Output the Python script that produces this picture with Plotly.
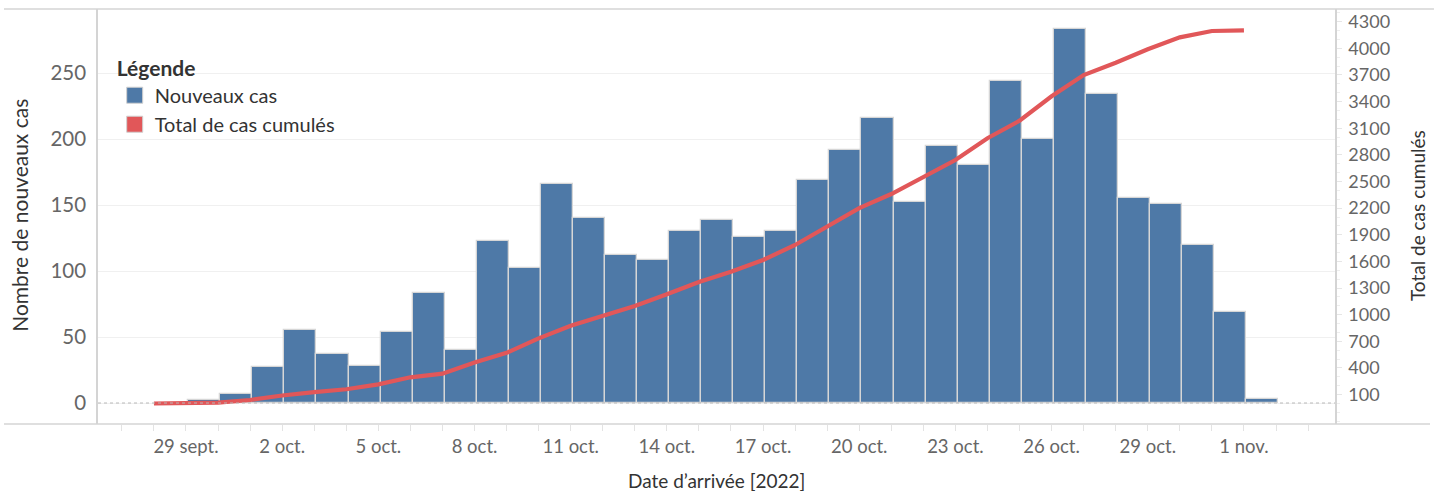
import plotly.graph_objects as go

# ---------------- data ----------------
bar_dates = [
    "2022-09-29", "2022-09-30", "2022-10-01", "2022-10-02", "2022-10-03", "2022-10-04",
    "2022-10-05", "2022-10-06", "2022-10-07", "2022-10-08", "2022-10-09", "2022-10-10",
    "2022-10-11", "2022-10-12", "2022-10-13", "2022-10-14", "2022-10-15", "2022-10-16",
    "2022-10-17", "2022-10-18", "2022-10-19", "2022-10-20", "2022-10-21", "2022-10-22",
    "2022-10-23", "2022-10-24", "2022-10-25", "2022-10-26", "2022-10-27", "2022-10-28",
    "2022-10-29", "2022-10-30", "2022-10-31", "2022-11-01",
]
new_cases = [
    2, 7, 27, 55, 37, 28,
    54, 83, 40, 123, 102, 166,
    140, 112, 108, 130, 139, 126,
    130, 169, 192, 216, 152, 195,
    180, 244, 200, 283, 234, 155,
    151, 120, 69, 3,
]

line_dates = [
    "2022-09-28", "2022-09-29", "2022-09-30", "2022-10-01", "2022-10-02", "2022-10-03",
    "2022-10-04", "2022-10-05", "2022-10-06", "2022-10-07", "2022-10-08", "2022-10-09",
    "2022-10-10", "2022-10-11", "2022-10-12", "2022-10-13", "2022-10-14", "2022-10-15",
    "2022-10-16", "2022-10-17", "2022-10-18", "2022-10-19", "2022-10-20", "2022-10-21",
    "2022-10-22", "2022-10-23", "2022-10-24", "2022-10-25", "2022-10-26", "2022-10-27",
    "2022-10-28", "2022-10-29", "2022-10-30", "2022-10-31", "2022-11-01",
]
cumulative_cases = [
    0, 2, 10, 39, 90, 129,
    160, 215, 295, 336, 462, 570,
    734, 876, 989, 1098, 1230, 1368,
    1484, 1616, 1785, 1986, 2200, 2359,
    2554, 2742, 2987, 3185, 3460, 3699,
    3838, 3989, 4124, 4195, 4203,
]

x_tick_vals = [
    "2022-09-29", "2022-10-02", "2022-10-05", "2022-10-08", "2022-10-11", "2022-10-14",
    "2022-10-17", "2022-10-20", "2022-10-23", "2022-10-26", "2022-10-29", "2022-11-01",
]
x_tick_text = [
    "29 sept.", "2 oct.", "5 oct.", "8 oct.", "11 oct.", "14 oct.",
    "17 oct.", "20 oct.", "23 oct.", "26 oct.", "29 oct.", "1 nov.",
]
left_tick_vals = [0, 50, 100, 150, 200, 250]
right_tick_vals = [100, 400, 700, 1000, 1300, 1600, 1900, 2200, 2500, 2800, 3100, 3400, 3700, 4000, 4300]

series_names = ["Nouveaux cas", "Total de cas cumulés"]
legend_title = "Légende"
x_title = "Date d’arrivée [2022]"
y_title = "Nombre de nouveaux cas"
y2_title = "Total de cas cumulés"

# ---------------- style ----------------
FONT = "Lato"
BLUE = "#4E79A7"
RED = "#E15759"
DAY_MS = 86400000

fig = go.Figure()

fig.add_trace(go.Bar(
    x=bar_dates, y=new_cases, name=series_names[0],
    offset=0.07 * DAY_MS, width=DAY_MS,
    marker=dict(color=BLUE, line=dict(color="#d6d6d6", width=1.3)),
    showlegend=False, yaxis="y",
))
fig.add_trace(go.Scatter(
    x=line_dates, y=cumulative_cases, name=series_names[1],
    mode="lines", line=dict(color=RED, width=4.2),
    showlegend=False, yaxis="y2",
))
# legend entries (square swatches as in the reference)
for name, col in zip(series_names, [BLUE, RED]):
    fig.add_trace(go.Scatter(
        x=[None], y=[None], name=name, mode="markers",
        marker=dict(symbol="square", size=16, color=col, line=dict(color="#d0d0d0", width=1)),
        showlegend=True, yaxis="y",
    ))

fig.update_layout(
    width=1435, height=491,
    margin=dict(l=98, r=100, t=9, b=67),
    paper_bgcolor="white", plot_bgcolor="white",
    font=dict(family=FONT, color="#666666"),
    bargap=0,
    legend=dict(
        title=dict(text="<b>" + legend_title + "</b>", font=dict(size=21, color="#333333", family=FONT)),
        font=dict(size=20, color="#333333", family=FONT),
        x=0.0135, y=0.905, xanchor="left", yanchor="top",
        bgcolor="rgba(0,0,0,0)", tracegroupgap=0, itemsizing="trace",
    ),
    xaxis=dict(
        type="date",
        range=["2022-09-26 06:08", "2022-11-03 20:10"],
        tickmode="array", tickvals=x_tick_vals, ticktext=x_tick_text,
        tickfont=dict(size=18.5, color="#666666"),
        ticks="outside", ticklen=6, tickcolor="#e3e3e3",
        minor=dict(ticks="outside", ticklen=6, tickcolor="#e3e3e3", dtick=DAY_MS, tick0="2022-09-29", showgrid=False),
        showgrid=False, zeroline=False, showline=False,
    ),
    yaxis=dict(
        range=[-15.9, 298.5],
        tickmode="array", tickvals=left_tick_vals,
        tickfont=dict(size=20.5, color="#666666"),
        ticklabelstandoff=6,
        showgrid=True, gridcolor="#f0f0f0", gridwidth=1,
        zeroline=False, showline=True, linecolor="#d4d4d4", linewidth=1.5,
    ),
    yaxis2=dict(
        overlaying="y", side="right",
        range=[-231, 4443],
        tickmode="array", tickvals=right_tick_vals,
        tickfont=dict(size=18, color="#666666"),
        ticks="outside", ticklen=5, tickcolor="#e6e6e6",
        minor=dict(ticks="outside", ticklen=3, tickcolor="#eeeeee", dtick=100, tick0=0),
        ticklabelstandoff=3,
        showgrid=False, zeroline=False, showline=True, linecolor="#d4d4d4", linewidth=1.5,
    ),
    annotations=[
        dict(text=y_title, xref="paper", yref="paper", x=-0.0631, y=0.504,
             xanchor="center", yanchor="middle", textangle=-90, showarrow=False,
             font=dict(size=21, color="#333333", family=FONT)),
        dict(text=y2_title, xref="paper", yref="paper", x=1.0663, y=0.501,
             xanchor="center", yanchor="middle", textangle=-90, showarrow=False,
             font=dict(size=19, color="#333333", family=FONT)),
        dict(text=x_title, xref="paper", yref="paper", x=0.5, y=-0.137,
             xanchor="center", yanchor="middle", showarrow=False,
             font=dict(size=19, color="#333333", family=FONT)),
    ],
    shapes=[
        # dotted zero line
        dict(type="line", xref="paper", yref="y", x0=0, x1=1, y0=0, y1=0,
             line=dict(color="#b8b8b8", width=1, dash="dot"), layer="above"),
        # top and bottom frame lines spanning the view
        dict(type="line", xref="paper", yref="paper", x0=-0.076, x1=1.08, y0=1, y1=1,
             line=dict(color="#d4d4d4", width=1.5)),
        dict(type="line", xref="paper", yref="paper", x0=-0.076, x1=1.0768, y0=0, y1=0,
             line=dict(color="#d4d4d4", width=1.5)),
    ],
)

fig.write_html("out.html", config={"displayModeBar": False},
               post_script="document.body.style.margin='0';")
